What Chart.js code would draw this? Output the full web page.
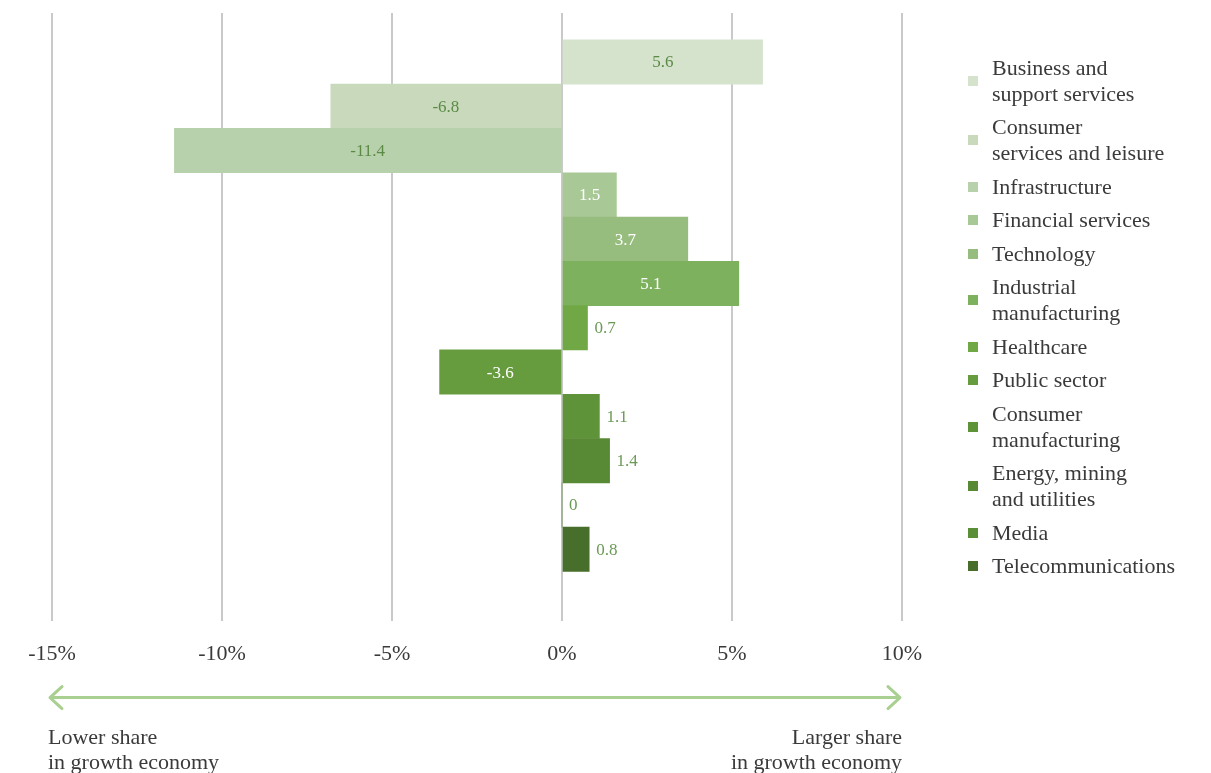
<!DOCTYPE html>
<html>
<head>
<meta charset="utf-8">
<script src="https://cdn.jsdelivr.net/npm/chart.js@4.4.1/dist/chart.umd.min.js"></script>
<style>
  html, body { margin: 0; padding: 0; background: #fff; }
  #wrap { position: relative; width: 1211px; height: 773px; overflow: hidden; }
  #chart1 { position: absolute; left: 0; top: 0; }
  #legend { position: absolute; left: 968px; top: 51px; font-family: 'Liberation Serif', serif;
    font-size: 22px; color: #3a3a3a; }
  #legend .item { display: flex; align-items: center; padding: 3.75px 0; }
  #legend .box { width: 10px; height: 10px; margin-right: 14px; flex: none; }
  #legend .txt { white-space: pre-line; line-height: 26px; }
</style>
</head>
<body>
<div id="wrap">
  <canvas id="chart1" width="1211" height="773"></canvas>
  <div id="legend"></div>
</div>
<script>
// sectors, top to bottom
const sectors = [
  'Business and\nsupport services',
  'Consumer\nservices and leisure',
  'Infrastructure',
  'Financial services',
  'Technology',
  'Industrial\nmanufacturing',
  'Healthcare',
  'Public sector',
  'Consumer\nmanufacturing',
  'Energy, mining\nand utilities',
  'Media',
  'Telecommunications',
];
// bar lengths as drawn (percentage points)
const shareDiff = [5.9, -6.8, -11.4, 1.6, 3.7, 5.2, 0.75, -3.6, 1.1, 1.4, 0, 0.8];
// printed value labels
const valueLabels = ['5.6', '-6.8', '-11.4', '1.5', '3.7', '5.1', '0.7', '-3.6', '1.1', '1.4', '0', '0.8'];
const xTicks = [-15, -10, -5, 0, 5, 10];
const arrowText = [['Lower share', 'in growth economy'], ['Larger share', 'in growth economy']];

const barColors = ['#d5e3cd', '#c8dabb', '#b8d1ad', '#a8c996', '#96bc7e', '#7db15d',
  '#70a845', '#669c3e', '#5f933a', '#588a35', '#5a8e37', '#476e2a'];
const serif = "'Liberation Serif', serif";

function isLight(hex) {
  const r = parseInt(hex.slice(1, 3), 16), g = parseInt(hex.slice(3, 5), 16), b = parseInt(hex.slice(5, 7), 16);
  return (0.299 * r + 0.587 * g + 0.114 * b) > 195;
}

// value labels on / beside the bars
const barLabels = {
  id: 'barLabels',
  afterDatasetsDraw(chart) {
    const ctx = chart.ctx;
    const meta = chart.getDatasetMeta(0);
    ctx.save();
    ctx.font = '17px ' + serif;
    ctx.textBaseline = 'middle';
    meta.data.forEach((bar, i) => {
      const w = Math.abs(bar.x - bar.base);
      if (w > 50) {
        ctx.textAlign = 'center';
        ctx.fillStyle = isLight(barColors[i]) ? '#5b8a45' : '#ffffff';
        ctx.fillText(valueLabels[i], (bar.x + bar.base) / 2, bar.y + 1);
      } else {
        ctx.textAlign = 'left';
        ctx.fillStyle = '#6b9a56';
        ctx.fillText(valueLabels[i], Math.max(bar.x, bar.base) + 7, bar.y + 1);
      }
    });
    ctx.restore();
  },
};

// double arrow and captions under the axis
const arrowNote = {
  id: 'arrowNote',
  afterDraw(chart) {
    const ctx = chart.ctx;
    const xs = chart.scales.x;
    const x0 = xs.getPixelForValue(xs.min) - 4;
    const x1 = xs.getPixelForValue(xs.max);
    const y = chart.chartArea.bottom + 77;
    ctx.save();
    ctx.strokeStyle = '#a9cf91';
    ctx.lineWidth = 3;
    ctx.lineCap = 'round';
    ctx.lineJoin = 'round';
    ctx.beginPath();
    ctx.moveTo(x0 + 2, y);
    ctx.lineTo(x1 - 2, y);
    ctx.moveTo(x0 + 14, y - 11);
    ctx.lineTo(x0 + 2, y);
    ctx.lineTo(x0 + 14, y + 11);
    ctx.moveTo(x1 - 14, y - 11);
    ctx.lineTo(x1 - 2, y);
    ctx.lineTo(x1 - 14, y + 11);
    ctx.stroke();

    ctx.font = '22px ' + serif;
    ctx.fillStyle = '#3a3a3a';
    ctx.textBaseline = 'middle';
    ctx.textAlign = 'left';
    arrowText[0].forEach((t, k) => ctx.fillText(t, x0, y + 41 + k * 25));
    ctx.textAlign = 'right';
    arrowText[1].forEach((t, k) => ctx.fillText(t, x1, y + 41 + k * 25));
    ctx.restore();
  },
};

const ctx = document.getElementById('chart1').getContext('2d');
const chart1 = new Chart(ctx, {
  type: 'bar',
  data: {
    datasets: [{
      data: shareDiff.map((v, i) => ({ x: v, y: i })),
      backgroundColor: barColors,
      borderWidth: 0,
      barPercentage: 1,
      categoryPercentage: 1,
    }],
  },
  options: {
    indexAxis: 'y',
    responsive: false,
    animation: false,
    layout: { padding: { left: 52, right: 309, top: 13, bottom: 86 } },
    plugins: {
      legend: { display: false },
      tooltip: { enabled: false },
    },
    scales: {
      x: {
        type: 'linear',
        min: -15,
        max: 10,
        afterBuildTicks: (axis) => { axis.ticks = xTicks.map((v) => ({ value: v })); },
        ticks: {
          callback: (v) => v + '%',
          font: { family: serif, size: 22 },
          color: '#3a3a3a',
          padding: 20,
          maxRotation: 0,
        },
        grid: { color: '#c9c9c9', lineWidth: 2, drawTicks: false },
        border: { display: false },
      },
      y: {
        type: 'linear',
        reverse: true,
        bounds: 'data',
        offset: false,
        grid: { offset: false },
        min: -1.106,
        max: 12.61,
        display: false,
        // one tick per sector so bars fill the whole band
        afterBuildTicks: (axis) => { axis.ticks = sectors.map((s, i) => ({ value: i })); },
      },
    },
  },
  plugins: [barLabels, arrowNote],
});

// html legend, one entry per sector
const legendEl = document.getElementById('legend');
sectors.forEach((name, i) => {
  const item = document.createElement('div');
  item.className = 'item';
  item.innerHTML = `<span class="box" style="background:${barColors[i]}"></span><span class="txt"></span>`;
  item.querySelector('.txt').textContent = name;
  legendEl.appendChild(item);
});
</script>
</body>
</html>
